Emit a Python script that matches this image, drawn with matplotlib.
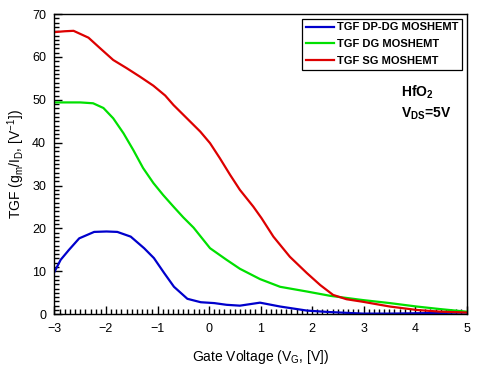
import matplotlib
matplotlib.use("Agg")
import matplotlib.pyplot as plt
from matplotlib.ticker import MultipleLocator

plt.rcParams['font.family'] = ['Liberation Sans', 'DejaVu Sans']
plt.rcParams['mathtext.fontset'] = 'custom'
plt.rcParams['mathtext.rm'] = 'Liberation Sans'
plt.rcParams['mathtext.it'] = 'Liberation Sans'
plt.rcParams['mathtext.bf'] = 'Liberation Sans:bold'

# Data
vg_sg = [-3, -2.8, -2.63, -2.34, -2.12, -1.86, -1.60, -1.34, -1.08, -0.85, -0.69, -0.43, -0.17,
         0.02, 0.21, 0.41, 0.60, 0.86, 1.02, 1.25, 1.57, 1.90, 2.16, 2.41, 2.67, 2.99, 3.51,
         4.03, 4.49, 5.0]
tgf_sg = [65.8, 66.0, 66.1, 64.5, 62.1, 59.3, 57.4, 55.4, 53.3, 51.0, 48.8, 45.7, 42.6,
          39.9, 36.4, 32.5, 29.0, 25.1, 22.4, 18.1, 13.4, 9.6, 6.8, 4.5, 3.5, 2.9, 1.8,
          1.0, 0.6, 0.4]

vg_dg = [-3, -2.5, -2.25, -2.05, -1.86, -1.66, -1.47, -1.28, -1.08, -0.89, -0.69, -0.50, -0.30,
         0.02, 0.34, 0.60, 0.99, 1.38, 1.90, 2.35, 2.99, 3.51, 4.03, 4.49, 5.0]
tgf_dg = [49.4, 49.4, 49.2, 48.1, 45.7, 42.2, 38.3, 34.1, 30.6, 27.8, 25.1, 22.6, 20.2,
          15.4, 12.7, 10.6, 8.2, 6.4, 5.3, 4.3, 3.3, 2.6, 1.8, 1.2, 0.6]

vg_dp = [-3, -2.88, -2.72, -2.52, -2.23, -1.99, -1.78, -1.52, -1.26, -1.07, -0.87, -0.68, -0.42,
         -0.16, 0.10, 0.34, 0.60, 0.99, 1.38, 1.90, 2.35, 2.99, 3.51, 4.49, 5.0]
tgf_dp = [9.9, 12.7, 15.0, 17.7, 19.2, 19.3, 19.2, 18.1, 15.4, 13.1, 9.6, 6.4, 3.6,
          2.8, 2.6, 2.2, 2.0, 2.7, 1.8, 0.85, 0.5, 0.15, 0.15, 0.3, 0.4]

labels = ['TGF DP-DG MOSHEMT', 'TGF DG MOSHEMT', 'TGF SG MOSHEMT']
colors = ['#0000CC', '#00E000', '#DD0000']

fig = plt.figure(figsize=(4.78, 3.71), dpi=100)
ax = fig.add_axes([0.114, 0.153, 0.862, 0.809])

ax.plot(vg_dp, tgf_dp, color=colors[0], lw=1.6, label=labels[0])
ax.plot(vg_dg, tgf_dg, color=colors[1], lw=1.6, label=labels[1])
ax.plot(vg_sg, tgf_sg, color=colors[2], lw=1.6, label=labels[2])

ax.set_xlim(-3, 5)
ax.set_ylim(0, 70)
ax.xaxis.set_major_locator(MultipleLocator(1))
ax.xaxis.set_minor_locator(MultipleLocator(0.1))
ax.yaxis.set_major_locator(MultipleLocator(10))
ax.yaxis.set_minor_locator(MultipleLocator(1))
ax.tick_params(which='both', direction='in', top=False, right=False, labelsize=9,
               width=1.0, color='black')
ax.tick_params(which='major', length=6, pad=6)
ax.tick_params(which='minor', length=3.5)
for s in ax.spines.values():
    s.set_linewidth(1.0)

ax.set_xlabel('Gate Voltage (V$_\\mathrm{G}$, [V])', fontsize=10, labelpad=10)
ax.set_ylabel('TGF (g$_\\mathrm{m}$/I$_\\mathrm{D}$, [V$^\\mathrm{-1}$])', fontsize=10, labelpad=4)

leg = ax.legend(loc='upper right', prop={'weight': 'bold', 'size': 8}, frameon=True,
                fancybox=False, edgecolor='black', framealpha=1, borderpad=0.35,
                handlelength=2.5, handletextpad=0.25, labelspacing=0.62, borderaxespad=0.4)
leg.get_frame().set_linewidth(0.9)

ax.text(0.842, 0.725, 'HfO$_\\mathbf{2}$', transform=ax.transAxes, fontsize=10, fontweight='bold')
ax.text(0.842, 0.655, 'V$_\\mathbf{DS}$=5V', transform=ax.transAxes, fontsize=10, fontweight='bold')

fig.savefig('out.png', dpi=100)
